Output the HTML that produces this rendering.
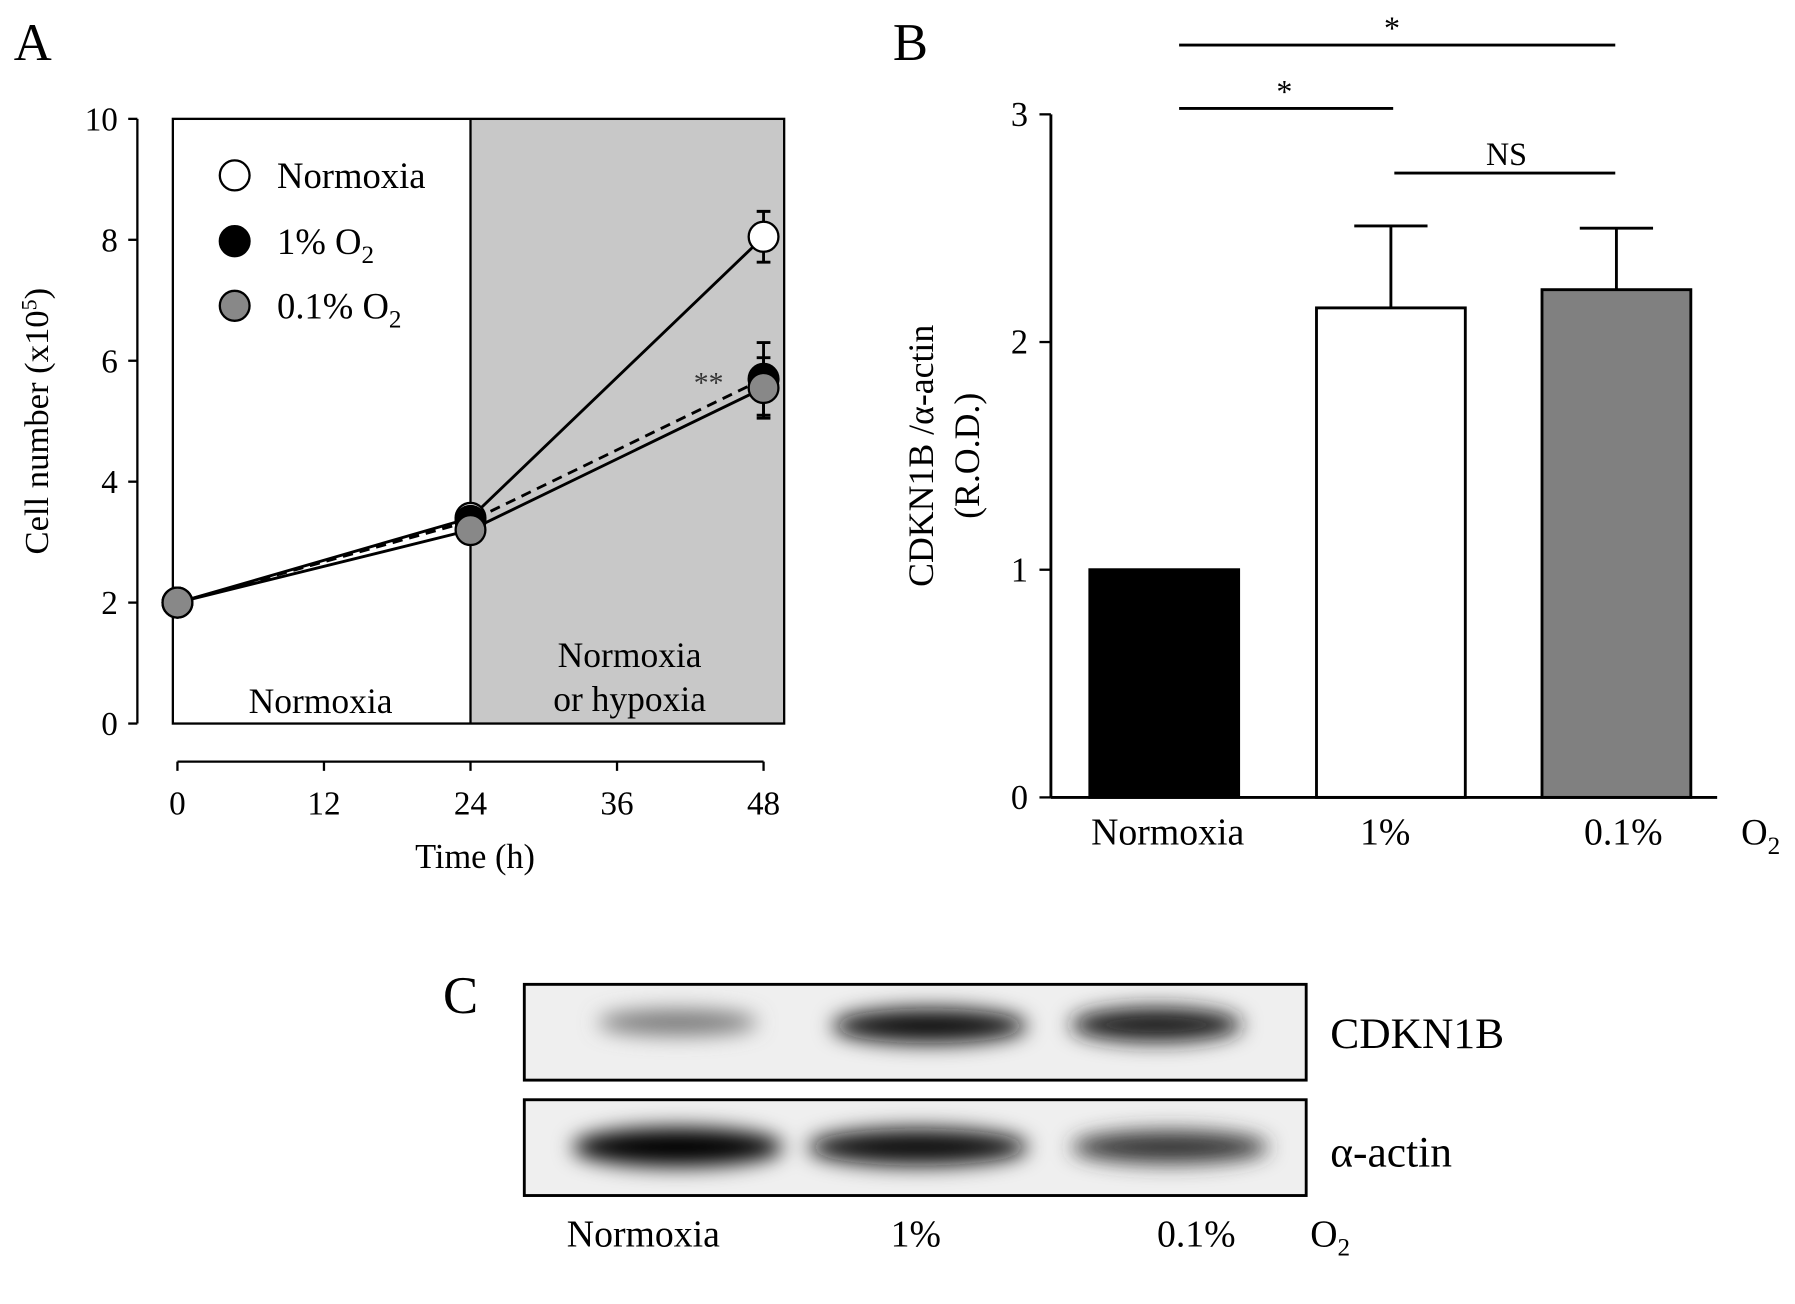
<!DOCTYPE html>
<html><head><meta charset="utf-8"><style>
html,body{margin:0;padding:0;background:#fff;}
svg{display:block;font-family:"Liberation Serif",serif;}
</style></head><body>
<svg id="fig" width="1795" height="1304" viewBox="0 0 1568 1130" preserveAspectRatio="none">
<defs><filter id="blur" x="-20%" y="-50%" width="140%" height="200%"><feGaussianBlur stdDeviation="9"/></filter></defs>
<g id="A">
<text x="12" y="52" font-size="46">A</text>
<rect x="411" y="103" width="274" height="524" fill="#c8c8c8"/>
<rect x="151" y="103" width="534" height="524" fill="none" stroke="#000" stroke-width="2"/>
<line x1="411" y1="103" x2="411" y2="627" stroke="#000" stroke-width="2"/>
<text x="280" y="618" font-size="31" text-anchor="middle">Normoxia</text>
<text x="550" y="578" font-size="31" text-anchor="middle">Normoxia</text>
<text x="550" y="616" font-size="31" text-anchor="middle">or hypoxia</text>
<text transform="translate(42,365) rotate(-90)" font-size="30" text-anchor="middle">Cell number (x10<tspan dy="-10" font-size="19">5</tspan><tspan dy="10">)</tspan></text>
<text x="415" y="752" font-size="30" text-anchor="middle">Time (h)</text>
<text x="619" y="340" font-size="26" fill="#333" text-anchor="middle">**</text>
<g id="axA"></g><g id="serA"></g>
<g>
<circle cx="205" cy="152" r="13" fill="#fff" stroke="#000" stroke-width="2"/>
<text x="242" y="163" font-size="32">Normoxia</text>
<circle cx="205" cy="209" r="13" fill="#000" stroke="#000" stroke-width="2"/>
<text x="242" y="220" font-size="32">1% O<tspan dy="8" font-size="22">2</tspan></text>
<circle cx="205" cy="265" r="13" fill="#888" stroke="#000" stroke-width="2"/>
<text x="242" y="276" font-size="32">0.1% O<tspan dy="8" font-size="22">2</tspan></text>
</g>
</g>
<g id="B">
<text x="780" y="52" font-size="46">B</text>
<text transform="translate(815,395) rotate(-90)" font-size="31" text-anchor="middle">CDKN1B /α-actin</text>
<text transform="translate(855,395) rotate(-90)" font-size="31" text-anchor="middle">(R.O.D.)</text>
<g id="axB"></g><g id="barsB"></g>
<g stroke="#000" stroke-width="2.5">
<line x1="1030" y1="39" x2="1411" y2="39"/><line x1="1030" y1="94" x2="1217" y2="94"/><line x1="1218" y1="150" x2="1411" y2="150"/>
</g>
<text x="1216" y="34" font-size="28" text-anchor="middle">*</text>
<text x="1122" y="89" font-size="28" text-anchor="middle">*</text>
<text x="1316" y="143" font-size="28" text-anchor="middle">NS</text>
<text x="1538" y="732" font-size="32" text-anchor="middle">O<tspan dy="8" font-size="22">2</tspan></text>
</g>
<g id="C">
<text x="387" y="878" font-size="46">C</text>
<rect x="458" y="853" width="683" height="83" fill="#efefef" stroke="#000" stroke-width="2.5"/>
<rect x="458" y="953" width="683" height="83" fill="#efefef" stroke="#000" stroke-width="2.5"/>
<g filter="url(#blur)">
<ellipse cx="592" cy="886" rx="70" ry="11" fill="#777"/>
<ellipse cx="812" cy="889" rx="85" ry="15" fill="#111"/>
<ellipse cx="1010" cy="888" rx="75" ry="15" fill="#1a1a1a"/>
<ellipse cx="592" cy="994" rx="92" ry="17" fill="#000"/>
<ellipse cx="802" cy="994" rx="96" ry="16" fill="#111"/>
<ellipse cx="1022" cy="994" rx="86" ry="14" fill="#333"/>
</g>
<text x="1162" y="908" font-size="38">CDKN1B</text>
<text x="1162" y="1011" font-size="38">α-actin</text>
<text x="562" y="1080" font-size="33" text-anchor="middle">Normoxia</text>
<text x="800" y="1080" font-size="33" text-anchor="middle">1%</text>
<text x="1045" y="1080" font-size="33" text-anchor="middle">0.1%</text>
<text x="1162" y="1080" font-size="33" text-anchor="middle">O<tspan dy="8" font-size="22">2</tspan></text>
</g>
<script>
const timePoints=[0,24,48];
const normoxiaVals=[2.0,3.4,8.05];
const normoxiaErr=[0,0.1,0.42];
const pct1Vals=[2.0,3.35,5.7];
const pct1Err=[0,0.1,0.6];
const pct01Vals=[2.0,3.2,5.55];
const pct01Err=[0,0.1,0.5];
const yTicksA=[0,2,4,6,8,10];
const xTicksA=[0,12,24,36,48];
const barCats=["Normoxia","1%","0.1%"];
const barVals=[1.0,2.15,2.23];
const barErr=[0,0.36,0.27];
const yTicksB=[0,1,2,3];
const NS="http://www.w3.org/2000/svg";
function mk(p,t,a){const e=document.createElementNS(NS,t);for(const k in a)e.setAttribute(k,a[k]);p.appendChild(e);return e;}
const xA=t=>155+t*(512/48), yA=v=>627-v*52.4;
const xB=i=>[1017,1215,1412][i], yB=v=>691-v*197.3;
const axA=document.getElementById('axA');
let l=mk(axA,'line',{x1:120,y1:yA(0),x2:120,y2:yA(10),stroke:'#000','stroke-width':2});


yTicksA.forEach(v=>{mk(axA,'line',{x1:112,y1:yA(v),x2:120,y2:yA(v),stroke:'#000','stroke-width':2});
const t=mk(axA,'text',{x:103,y:yA(v)+10,'font-size':29,'text-anchor':'end'});t.textContent=v;

});
l=mk(axA,'line',{x1:xA(0),y1:660,x2:xA(48),y2:660,stroke:'#000','stroke-width':2});


xTicksA.forEach(v=>{mk(axA,'line',{x1:xA(v),y1:660,x2:xA(v),y2:668,stroke:'#000','stroke-width':2});
const t=mk(axA,'text',{x:xA(v),y:706,'font-size':29,'text-anchor':'middle'});t.textContent=v;

});
const serA=document.getElementById('serA');
const series=[[normoxiaVals,normoxiaErr,'#fff','none','normoxia'],[pct1Vals,pct1Err,'#000','9,6','1pct'],[pct01Vals,pct01Err,'#888','none','01pct']];
series.forEach(([vals,err,fill,dash,nm])=>{
 const pl=mk(serA,'polyline',{points:timePoints.map((t,i)=>xA(t)+','+yA(vals[i])).join(' '),fill:'none',stroke:'#000','stroke-width':2.5,'stroke-dasharray':dash});
 
 
});
series.forEach(([vals,err,fill,dash,nm])=>{
 timePoints.forEach((t,i)=>{
  if(err[i]>0.2){const x=xA(t);mk(serA,'path',{d:`M${x},${yA(vals[i]+err[i])}V${yA(vals[i]-err[i])}M${x-6},${yA(vals[i]+err[i])}h12M${x-6},${yA(vals[i]-err[i])}h12`,stroke:'#000','stroke-width':2.5,fill:'none'});}
  const c=mk(serA,'circle',{cx:xA(t),cy:yA(vals[i]),r:13,fill:fill,stroke:'#000','stroke-width':2});
  
  
 });
});
const axB=document.getElementById('axB');
l=mk(axB,'line',{x1:918,y1:yB(0),x2:918,y2:yB(3),stroke:'#000','stroke-width':2.5});


l=mk(axB,'line',{x1:918,y1:yB(0),x2:1500,y2:yB(0),stroke:'#000','stroke-width':2.5});


yTicksB.forEach(v=>{mk(axB,'line',{x1:908,y1:yB(v),x2:918,y2:yB(v),stroke:'#000','stroke-width':2});
const t=mk(axB,'text',{x:898,y:yB(v)+10,'font-size':30,'text-anchor':'end'});t.textContent=v;

});
const barsB=document.getElementById('barsB');
const fills=['#000','#fff','#808080'];
barCats.forEach((c,i)=>{
 const x=xB(i);
 if(barErr[i]>0)mk(barsB,'path',{d:`M${x},${yB(barVals[i])}V${yB(barVals[i]+barErr[i])}M${x-32},${yB(barVals[i]+barErr[i])}h64`,stroke:'#000','stroke-width':2.5});
 const r=mk(barsB,'rect',{x:x-65,y:yB(barVals[i]),width:130,height:yB(0)-yB(barVals[i]),fill:fills[i],stroke:'#000','stroke-width':2.5});
 
 
 const t=mk(barsB,'text',{x:[1020,1210,1418][i],y:732,'font-size':33,'text-anchor':'middle'});t.textContent=c;
 
 
});
</script>
</svg>
</body></html>
